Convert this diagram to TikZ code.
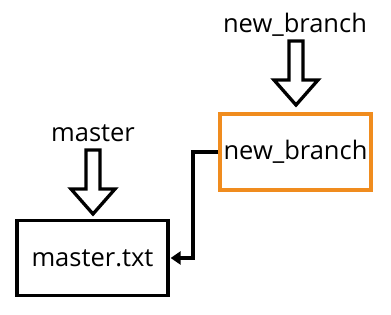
\documentclass[tikz,border=0pt]{standalone}
\usepackage{fontspec}
\setmainfont{Open Sans}
\usetikzlibrary{arrows.meta}
\definecolor{branchorange}{RGB}{240,140,30}
\tikzset{
  box/.style={draw=black, line width=3.3pt, minimum width=151pt, minimum height=75pt, inner sep=0pt, font=\fontsize{25.5}{28}\selectfont},
  lbl/.style={inner sep=0pt, font=\fontsize{25.5}{28}\selectfont},
  link/.style={draw=black, line width=3.3pt, -{Triangle[length=10pt,width=13pt]}},
  hollowdown/.pic={
    \draw[line width=3.3pt, line join=miter, fill=white]
      (-7,0) -- (7,0) -- (7,39) -- (22,39) -- (0,64) -- (-22,39) -- (-7,39) -- cycle;
  }
}
\begin{document}
\begin{tikzpicture}[x=1pt,y=-1pt]
\useasboundingbox (0,0) rectangle (391,315);
\node[box] (mt) at (92.5,258) {master.txt};
\node[box, draw=branchorange, minimum height=76pt] (nb) at (295.5,152) {new\_branch};
\node[lbl] (ml) at (93,133) {master};
\node[lbl] (nl) at (295,25) {new\_branch};
\pic at (93,150) {hollowdown};
\pic at (296,41) {hollowdown};
\coordinate (bend) at (193,0);
\draw[link] (nb.west) -- (nb.west -| bend) |- ([xshift=1pt]mt.east);
\end{tikzpicture}
\end{document}
